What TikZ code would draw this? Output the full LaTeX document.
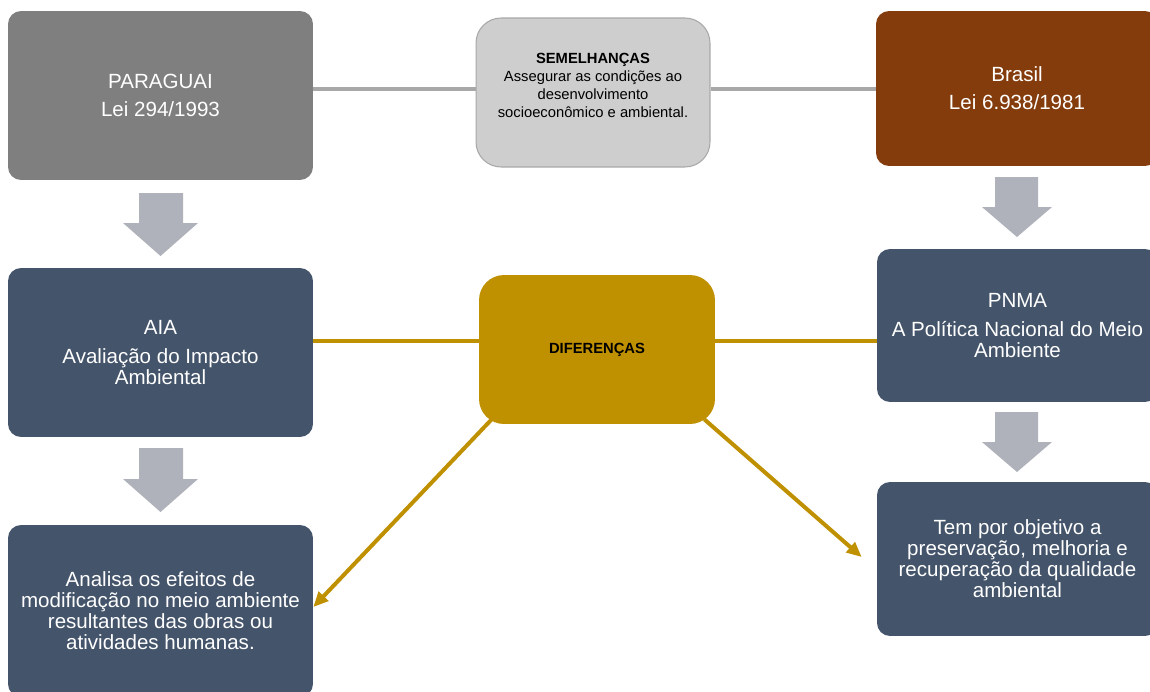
\documentclass[tikz,border=0pt]{standalone}
\usepackage{fontspec}
\setmainfont{Liberation Sans}
\usetikzlibrary{calc, arrows.meta}

\definecolor{pargray}{HTML}{7F7F7F}
\definecolor{semgray}{HTML}{CECECE}
\definecolor{semline}{HTML}{A8A8A8}
\definecolor{brabrown}{HTML}{843C0C}
\definecolor{slate}{HTML}{44546A}
\definecolor{gold}{HTML}{BF9000}
\definecolor{arrowgray}{HTML}{AFB2BA}

\begin{document}
\begin{tikzpicture}[x=0.02cm, y=-0.02cm,
    box/.style={rounded corners=0.26cm, align=center, text=white, inner sep=0pt,
      font=\fontsize{11.7}{11.9}\selectfont},
    small/.style={rounded corners=0.5cm, align=center, text=black, inner sep=0pt,
      font=\fontsize{8.4}{10.2}\selectfont},
    blockarrow/.style={fill=arrowgray},
    grayline/.style={semline, line width=0.08cm},
    goldline/.style={gold, line width=0.08cm},
    goldtip/.style={-{Triangle[length=0.3cm, width=0.26cm]}}]
  \useasboundingbox (0,0) rectangle (1150,691);

  % top row
  \node [box, fill=pargray, minimum width=6.1cm, minimum height=3.38cm]
    (par) at (160.5, 95.5) {PARAGUAI\\[4pt] Lei 294/1993};
  \node [small, fill=semgray, draw=semline, line width=0.6pt,
    minimum width=4.68cm, minimum height=2.98cm]
    (sem) at (593, 92.5)
    {\textbf{SEMELHANÇAS}\\ Assegurar as condições ao\\ desenvolvimento\\
     socioeconômico e ambiental.\\[-2pt]\mbox{}};
  \node [box, fill=brabrown, minimum width=5.64cm, minimum height=3.1cm]
    (bra) at (1017, 88.5) {Brasil\\[4pt] Lei 6.938/1981};

  \draw [grayline] (par.east |- bra.west) -- (sem.west |- bra.west);
  \draw [grayline] (sem.east |- bra.west) -- (bra.west);

  % middle row
  \node [box, fill=slate, minimum width=6.1cm, minimum height=3.38cm]
    (aia) at (160.5, 352.5) {AIA\\[4.5pt] Avaliação do Impacto\\ Ambiental};
  \node [small, fill=gold, minimum width=4.72cm, minimum height=2.98cm]
    (dif) at (597, 349.5) {\textbf{DIFERENÇAS}};
  \node [box, fill=slate, minimum width=5.62cm, minimum height=3.06cm]
    (pnma) at (1017.5, 325.5)
    {PNMA\\[4.5pt] A Política Nacional do Meio\\ Ambiente};

  \coordinate (difrow) at (0, 341);
  \draw [goldline] (aia.east |- difrow) -- (dif.west |- difrow);
  \draw [goldline] (dif.east |- difrow) -- (pnma.west |- difrow);

  % bottom row
  \node [box, fill=slate, minimum width=6.1cm, minimum height=3.44cm]
    (res) at (160.5, 611)
    {Analisa os efeitos de\\ modificação no meio ambiente\\
     resultantes das obras ou\\ atividades humanas.};
  \node [box, fill=slate, minimum width=5.62cm, minimum height=3.08cm]
    (obj) at (1017.5, 559)
    {Tem por objetivo a\\ preservação, melhoria e\\
     recuperação da qualidade\\ ambiental};

  \draw [goldline, goldtip] ($(dif.south west)+(13,-5)$) -- ($(res.east)+(0,-4)$);
  \draw [goldline, goldtip] ($(dif.south east)+(-11,-5)$) -- ($(obj.west)+(-15,-2)$);

  % block arrows
  \fill [blockarrow] (139,193) -- (183,193) -- (183,223) -- (198,223)
    -- (160.5,256) -- (123,223) -- (139,223) -- cycle;
  \fill [blockarrow] (139,448) -- (183,448) -- (183,479) -- (198,479)
    -- (160.5,512) -- (123,479) -- (139,479) -- cycle;
  \fill [blockarrow] (995,177) -- (1038,177) -- (1038,207) -- (1052,207)
    -- (1017,237) -- (982,207) -- (995,207) -- cycle;
  \fill [blockarrow] (995,412) -- (1038,412) -- (1038,442) -- (1052,442)
    -- (1017,472) -- (982,442) -- (995,442) -- cycle;
\end{tikzpicture}
\end{document}
